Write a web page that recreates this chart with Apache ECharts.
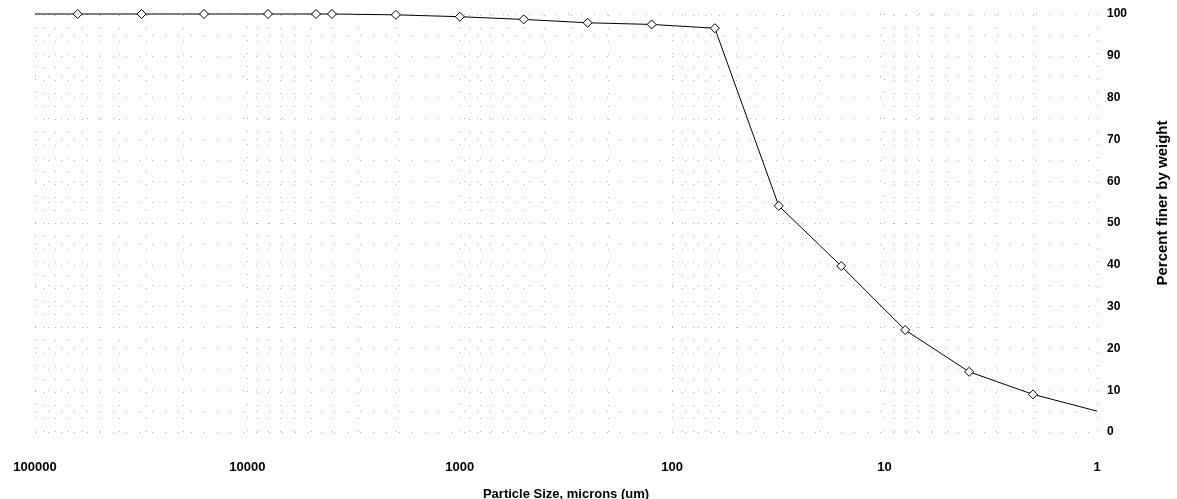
<!DOCTYPE html>
<html>
<head>
<meta charset="utf-8">
<script src="https://cdn.jsdelivr.net/npm/echarts@6/dist/echarts.min.js"></script>
<style>html,body{margin:0;padding:0;background:#fff;}#c{width:1177px;height:499px;}</style>
</head>
<body>
<div id="c"></div>
<script>
// Particle size (microns) and percent finer by weight
const particleSize = [100000, 63000, 31500, 16000, 8000, 4750, 4000, 2000, 1000, 500, 250, 125, 63, 31.5, 16, 8, 4, 2, 1];
const percentFiner = [100, 100, 100, 100, 100, 100, 100, 99.8, 99.35, 98.7, 97.9, 97.5, 96.6, 54.1, 39.7, 24.4, 14.4, 9.0, 5.0];
const hasMarker =    [false, true, true, true, true, true, true, true, true, true, true, true, true, true, true, true, true, true, false];
const xMajorTicks = [100000, 10000, 1000, 100, 10, 1];
const xMinorGrid = [90000,80000,70000,60000,50000,40000,30000,20000,
  9000,8000,7000,6000,5000,4000,3000,2000,
  900,800,700,600,500,400,300,200,
  90,80,70,60,50,40,30,20,
  9,8,7,6,5,4,3,2];
const xTitle = 'Particle Size, microns (um)';
const yTitle = 'Percent finer by weight';

const font = '"Liberation Sans", Arial, sans-serif';
const chart = echarts.init(document.getElementById('c'), null, {renderer: 'canvas'});
const seriesData = particleSize.map((s, i) => {
  const d = {value: [s, percentFiner[i]]};
  if (!hasMarker[i]) d.symbol = 'none';
  return d;
});
const gridLineStyle = {color: '#b4b4b4', width: 1, type: [1, 12]};
chart.setOption({
  animation: false,
  backgroundColor: '#fff',
  grid: {left: 35, right: 80, top: 14, bottom: 67, containLabel: false, outerBoundsMode: 'none'},
  xAxis: {
    type: 'log',
    logBase: 10,
    inverse: true,
    min: 1,
    max: 100000,
    name: xTitle,
    nameLocation: 'middle',
    nameGap: 56,
    nameTextStyle: {fontFamily: font, fontWeight: 'bold', fontSize: 13, color: '#000'},
    axisLine: {show: false},
    axisTick: {show: false},
    axisLabel: {
      margin: 29,
      fontFamily: font, fontWeight: 'bold', fontSize: 13, color: '#000',
      formatter: v => (xMajorTicks.indexOf(Math.round(v)) >= 0 ? String(Math.round(v)) : '')
    },
    splitLine: {show: true, lineStyle: gridLineStyle}
  },
  yAxis: {
    type: 'value',
    position: 'right',
    min: 0,
    max: 100,
    interval: 10,
    name: yTitle,
    nameLocation: 'middle',
    nameGap: 58,
    nameTextStyle: {fontFamily: font, fontWeight: 'bold', fontSize: 15, color: '#000', padding: [0, 0, 0, 40]},
    axisLine: {show: false},
    axisTick: {show: false},
    axisLabel: {margin: 10, fontFamily: font, fontWeight: 'bold', fontSize: 12, color: '#000'},
    splitLine: {show: true, lineStyle: gridLineStyle},
    minorTick: {show: false, splitNumber: 2},
    minorSplitLine: {show: true, lineStyle: gridLineStyle}
  },
  series: [{
    type: 'line',
    data: seriesData,
    symbol: 'diamond',
    symbolSize: [9, 9],
    showAllSymbol: true,
    clip: false,
    lineStyle: {color: '#000', width: 1},
    itemStyle: {color: '#fff', borderColor: '#000', borderWidth: 1},
    markLine: {
      silent: true,
      symbol: 'none',
      label: {show: false},
      lineStyle: gridLineStyle,
      animation: false,
      data: xMinorGrid.map(v => ({xAxis: v}))
    },
    z: 5
  }]
});
</script>
</body>
</html>
